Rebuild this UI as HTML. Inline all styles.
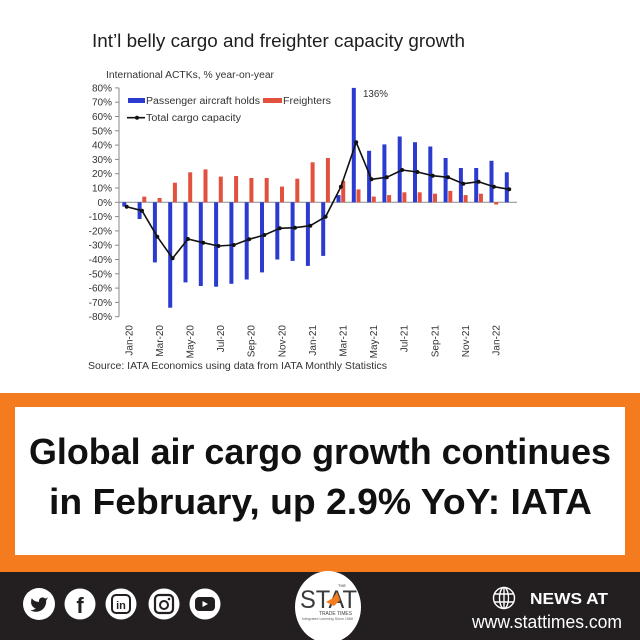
<!DOCTYPE html>
<html><head><meta charset="utf-8"><style>
html,body{margin:0;padding:0;background:#fff;}
svg{display:block;}
text{font-family:"Liberation Sans",Arial,sans-serif;}
</style></head><body>
<svg width="640" height="640" viewBox="0 0 640 640" xmlns="http://www.w3.org/2000/svg">
<rect x="0" y="0" width="640" height="640" fill="#ffffff"/>

<!-- Chart title -->
<text x="92" y="47" font-size="18" fill="#1e1e1e" textLength="373" lengthAdjust="spacingAndGlyphs">Int’l belly cargo and freighter capacity growth</text>
<text x="106" y="78" font-size="10" fill="#333" textLength="168" lengthAdjust="spacingAndGlyphs">International ACTKs, % year-on-year</text>

<!-- Y axis -->
<g stroke="#8a8a8a" stroke-width="1">
<line x1="119" y1="87.9" x2="119" y2="316.7"/>
<line x1="115" y1="87.9" x2="119" y2="87.9"/>
<line x1="115" y1="102.2" x2="119" y2="102.2"/>
<line x1="115" y1="116.5" x2="119" y2="116.5"/>
<line x1="115" y1="130.8" x2="119" y2="130.8"/>
<line x1="115" y1="145.1" x2="119" y2="145.1"/>
<line x1="115" y1="159.4" x2="119" y2="159.4"/>
<line x1="115" y1="173.7" x2="119" y2="173.7"/>
<line x1="115" y1="188.0" x2="119" y2="188.0"/>
<line x1="115" y1="202.3" x2="119" y2="202.3"/>
<line x1="115" y1="216.6" x2="119" y2="216.6"/>
<line x1="115" y1="230.9" x2="119" y2="230.9"/>
<line x1="115" y1="245.2" x2="119" y2="245.2"/>
<line x1="115" y1="259.5" x2="119" y2="259.5"/>
<line x1="115" y1="273.8" x2="119" y2="273.8"/>
<line x1="115" y1="288.1" x2="119" y2="288.1"/>
<line x1="115" y1="302.4" x2="119" y2="302.4"/>
<line x1="115" y1="316.7" x2="119" y2="316.7"/>
<line x1="119" y1="202.3" x2="517" y2="202.3"/>
</g>
<g font-size="10" fill="#333" text-anchor="end">
<text x="112" y="91.4">80%</text>
<text x="112" y="105.7">70%</text>
<text x="112" y="120.0">60%</text>
<text x="112" y="134.3">50%</text>
<text x="112" y="148.6">40%</text>
<text x="112" y="162.9">30%</text>
<text x="112" y="177.2">20%</text>
<text x="112" y="191.5">10%</text>
<text x="112" y="205.8">0%</text>
<text x="112" y="220.1">-10%</text>
<text x="112" y="234.4">-20%</text>
<text x="112" y="248.7">-30%</text>
<text x="112" y="263.0">-40%</text>
<text x="112" y="277.3">-50%</text>
<text x="112" y="291.6">-60%</text>
<text x="112" y="305.9">-70%</text>
<text x="112" y="320.2">-80%</text>
</g>

<!-- Red bars (Freighters) -->
<g fill="#e2513e">
<rect x="142.3" y="196.6" width="4" height="5.7"/>
<rect x="157.6" y="198.0" width="4" height="4.3"/>
<rect x="172.9" y="182.7" width="4" height="19.6"/>
<rect x="188.2" y="172.3" width="4" height="30"/>
<rect x="203.5" y="169.4" width="4" height="32.9"/>
<rect x="218.8" y="176.6" width="4" height="25.7"/>
<rect x="234.1" y="176.0" width="4" height="26.3"/>
<rect x="249.4" y="178.0" width="4" height="24.3"/>
<rect x="264.7" y="178.0" width="4" height="24.3"/>
<rect x="280.0" y="186.6" width="4" height="15.7"/>
<rect x="295.3" y="178.7" width="4" height="23.6"/>
<rect x="310.6" y="162.3" width="4" height="40"/>
<rect x="325.9" y="158.0" width="4" height="44.3"/>
<rect x="341.2" y="180.8" width="4" height="21.5"/>
<rect x="356.5" y="189.4" width="4" height="12.9"/>
<rect x="371.8" y="196.6" width="4" height="5.7"/>
<rect x="387.1" y="195.1" width="4" height="7.2"/>
<rect x="402.4" y="192.3" width="4" height="10"/>
<rect x="417.7" y="192.3" width="4" height="10"/>
<rect x="433.0" y="193.7" width="4" height="8.6"/>
<rect x="448.3" y="190.9" width="4" height="11.4"/>
<rect x="463.6" y="195.1" width="4" height="7.2"/>
<rect x="478.9" y="193.7" width="4" height="8.6"/>
<rect x="494.2" y="202.3" width="4" height="2.2"/>
</g>

<!-- Blue bars (Passenger aircraft holds) -->
<g fill="#2b3bd0">
<rect x="122.3" y="202.3" width="4" height="4.3"/>
<rect x="137.6" y="202.3" width="4" height="16.7"/>
<rect x="152.9" y="202.3" width="4" height="60.1"/>
<rect x="168.2" y="202.3" width="4" height="105.4"/>
<rect x="183.5" y="202.3" width="4" height="80.1"/>
<rect x="198.8" y="202.3" width="4" height="83.7"/>
<rect x="214.1" y="202.3" width="4" height="84.4"/>
<rect x="229.4" y="202.3" width="4" height="81.5"/>
<rect x="244.7" y="202.3" width="4" height="77.2"/>
<rect x="260.0" y="202.3" width="4" height="70.1"/>
<rect x="275.3" y="202.3" width="4" height="57.2"/>
<rect x="290.6" y="202.3" width="4" height="58.6"/>
<rect x="305.9" y="202.3" width="4" height="63.6"/>
<rect x="321.2" y="202.3" width="4" height="53.6"/>
<rect x="336.5" y="195.1" width="4" height="7.2"/>
<rect x="351.8" y="87.9" width="4" height="114.4"/>
<rect x="367.1" y="150.8" width="4" height="51.5"/>
<rect x="382.4" y="144.4" width="4" height="57.9"/>
<rect x="397.7" y="136.5" width="4" height="65.8"/>
<rect x="413.0" y="142.2" width="4" height="60.1"/>
<rect x="428.3" y="146.5" width="4" height="55.8"/>
<rect x="443.6" y="158.0" width="4" height="44.3"/>
<rect x="458.9" y="168.0" width="4" height="34.3"/>
<rect x="474.2" y="168.0" width="4" height="34.3"/>
<rect x="489.5" y="160.8" width="4" height="41.5"/>
<rect x="504.8" y="172.3" width="4" height="30"/>
</g>

<!-- Total cargo capacity line -->
<polyline fill="none" stroke="#111" stroke-width="1.6" stroke-linejoin="round" points="126.7,206.7 142.0,210.7 157.3,236.7 172.6,258.3 187.9,239.0 203.2,242.7 218.5,246.0 233.8,245.0 249.1,239.3 264.4,235.0 279.7,228.3 295.0,227.7 310.3,225.7 325.6,216.7 340.9,186.7 356.2,142.3 371.5,179.3 386.8,177.3 402.1,170.0 417.4,172.0 432.7,175.7 448.0,177.3 463.3,183.7 478.6,181.7 493.9,186.7 509.2,189.3"/>
<g fill="#111">
<circle cx="126.7" cy="206.7" r="2"/><circle cx="142.0" cy="210.7" r="2"/><circle cx="157.3" cy="236.7" r="2"/><circle cx="172.6" cy="258.3" r="2"/>
<circle cx="187.9" cy="239.0" r="2"/><circle cx="203.2" cy="242.7" r="2"/><circle cx="218.5" cy="246.0" r="2"/><circle cx="233.8" cy="245.0" r="2"/>
<circle cx="249.1" cy="239.3" r="2"/><circle cx="264.4" cy="235.0" r="2"/><circle cx="279.7" cy="228.3" r="2"/><circle cx="295.0" cy="227.7" r="2"/>
<circle cx="310.3" cy="225.7" r="2"/><circle cx="325.6" cy="216.7" r="2"/><circle cx="340.9" cy="186.7" r="2"/><circle cx="356.2" cy="142.3" r="2"/>
<circle cx="371.5" cy="179.3" r="2"/><circle cx="386.8" cy="177.3" r="2"/><circle cx="402.1" cy="170.0" r="2"/><circle cx="417.4" cy="172.0" r="2"/>
<circle cx="432.7" cy="175.7" r="2"/><circle cx="448.0" cy="177.3" r="2"/><circle cx="463.3" cy="183.7" r="2"/><circle cx="478.6" cy="181.7" r="2"/>
<circle cx="493.9" cy="186.7" r="2"/><circle cx="509.2" cy="189.3" r="2"/>
</g>

<text x="363" y="97" font-size="10" fill="#333" textLength="25" lengthAdjust="spacingAndGlyphs">136%</text>

<!-- Legend -->
<rect x="128" y="98" width="17" height="5" fill="#2b3bd0"/>
<text x="146" y="104" font-size="10" fill="#333" textLength="114" lengthAdjust="spacingAndGlyphs">Passenger aircraft holds</text>
<rect x="263" y="98" width="19" height="5" fill="#e2513e"/>
<text x="283" y="104" font-size="10" fill="#333" textLength="48" lengthAdjust="spacingAndGlyphs">Freighters</text>
<line x1="127" y1="117.7" x2="145" y2="117.7" stroke="#111" stroke-width="1.6"/>
<circle cx="137" cy="117.7" r="2" fill="#111"/>
<text x="146" y="121" font-size="10" fill="#333" textLength="95" lengthAdjust="spacingAndGlyphs">Total cargo capacity</text>

<!-- X labels -->
<g font-size="10" fill="#333" text-anchor="end">
<text transform="translate(132.3,325) rotate(-90)">Jan-20</text>
<text transform="translate(162.9,325) rotate(-90)">Mar-20</text>
<text transform="translate(193.5,325) rotate(-90)">May-20</text>
<text transform="translate(224.1,325) rotate(-90)">Jul-20</text>
<text transform="translate(254.7,325) rotate(-90)">Sep-20</text>
<text transform="translate(285.3,325) rotate(-90)">Nov-20</text>
<text transform="translate(315.9,325) rotate(-90)">Jan-21</text>
<text transform="translate(346.5,325) rotate(-90)">Mar-21</text>
<text transform="translate(377.1,325) rotate(-90)">May-21</text>
<text transform="translate(407.7,325) rotate(-90)">Jul-21</text>
<text transform="translate(438.3,325) rotate(-90)">Sep-21</text>
<text transform="translate(468.9,325) rotate(-90)">Nov-21</text>
<text transform="translate(499.5,325) rotate(-90)">Jan-22</text>
</g>
<text x="88" y="369" font-size="10" fill="#333" textLength="299" lengthAdjust="spacingAndGlyphs">Source: IATA Economics using data from IATA Monthly Statistics</text>

<!-- Orange headline band -->
<rect x="0" y="393" width="640" height="179" fill="#f47b1e"/>
<rect x="15" y="407" width="610" height="148" fill="#ffffff"/>
<text x="29" y="464" font-size="36" font-weight="bold" fill="#111" textLength="582" lengthAdjust="spacingAndGlyphs">Global air cargo growth continues</text>
<text x="49" y="514" font-size="36" font-weight="bold" fill="#111" textLength="543" lengthAdjust="spacingAndGlyphs">in February, up 2.9% YoY: IATA</text>

<!-- Footer -->
<rect x="0" y="572" width="640" height="68" fill="#231f20"/>
<g fill="#ffffff">
<circle cx="39" cy="604" r="16"/>
<circle cx="80" cy="604" r="15.5"/>
<circle cx="121" cy="604" r="15.5"/>
<circle cx="164" cy="604" r="15.5"/>
<circle cx="205" cy="604" r="15.5"/>
</g>
<!-- twitter bird -->
<path transform="translate(29.4,595) scale(0.8)" fill="#231f20" d="M23 3a10.9 10.9 0 0 1-3.14 1.53 4.48 4.48 0 0 0-7.86 3v1A10.66 10.66 0 0 1 3 4s-4 9 5 13a11.64 11.64 0 0 1-7 2c9 5 20 0 20-11.5a4.5 4.5 0 0 0-.08-.83A7.72 7.72 0 0 0 23 3z"/>
<!-- facebook -->
<text x="80" y="613" font-size="22" font-weight="bold" fill="#231f20" text-anchor="middle">f</text>
<!-- linkedin -->
<rect x="112" y="595" width="18" height="18" rx="4" fill="none" stroke="#231f20" stroke-width="2"/>
<text x="121" y="609" font-size="11" font-weight="bold" fill="#231f20" text-anchor="middle">in</text>
<!-- instagram -->
<rect x="155" y="595" width="18" height="18" rx="4" fill="none" stroke="#231f20" stroke-width="2.2"/>
<circle cx="164" cy="605" r="4" fill="none" stroke="#231f20" stroke-width="2"/>
<circle cx="169" cy="599" r="1.3" fill="#231f20"/>
<!-- youtube -->
<rect x="195" y="597" width="20" height="14" rx="4" fill="#231f20"/>
<path d="M202.5 601 L202.5 607 L208 604 Z" fill="#fff"/>

<!-- STAT logo -->
<ellipse cx="328" cy="607" rx="33" ry="36" fill="#ffffff"/>
<text x="300" y="608" font-size="25" fill="#3a3a3a" textLength="57" lengthAdjust="spacingAndGlyphs">STAT</text>
<path d="M326 602 L333 598 L337 592 L340 600 L334 606 Z" fill="#f47b1e"/>
<text x="338" y="587" font-size="4" fill="#333">THE</text>
<text x="319" y="615" font-size="5" fill="#444" textLength="33" lengthAdjust="spacingAndGlyphs">TRADE TIMES</text>
<text x="302" y="620" font-size="3.5" fill="#666" textLength="51" lengthAdjust="spacingAndGlyphs">Integrated Learning Since 1986</text>

<!-- News at -->
<g fill="none" stroke="#ffffff" stroke-width="1.4">
<circle cx="504" cy="598" r="10.5"/>
<ellipse cx="504" cy="598" rx="4.5" ry="10.5"/>
<line x1="504" y1="587.5" x2="504" y2="608.5"/>
<line x1="494" y1="594" x2="514" y2="594"/>
<line x1="494" y1="602" x2="514" y2="602"/>
</g>
<text x="530" y="604" font-size="16" font-weight="bold" fill="#ffffff" textLength="78" lengthAdjust="spacingAndGlyphs">NEWS AT</text>
<text x="472" y="628" font-size="18" fill="#ffffff" textLength="150" lengthAdjust="spacingAndGlyphs">www.stattimes.com</text>
</svg>
</body></html>
